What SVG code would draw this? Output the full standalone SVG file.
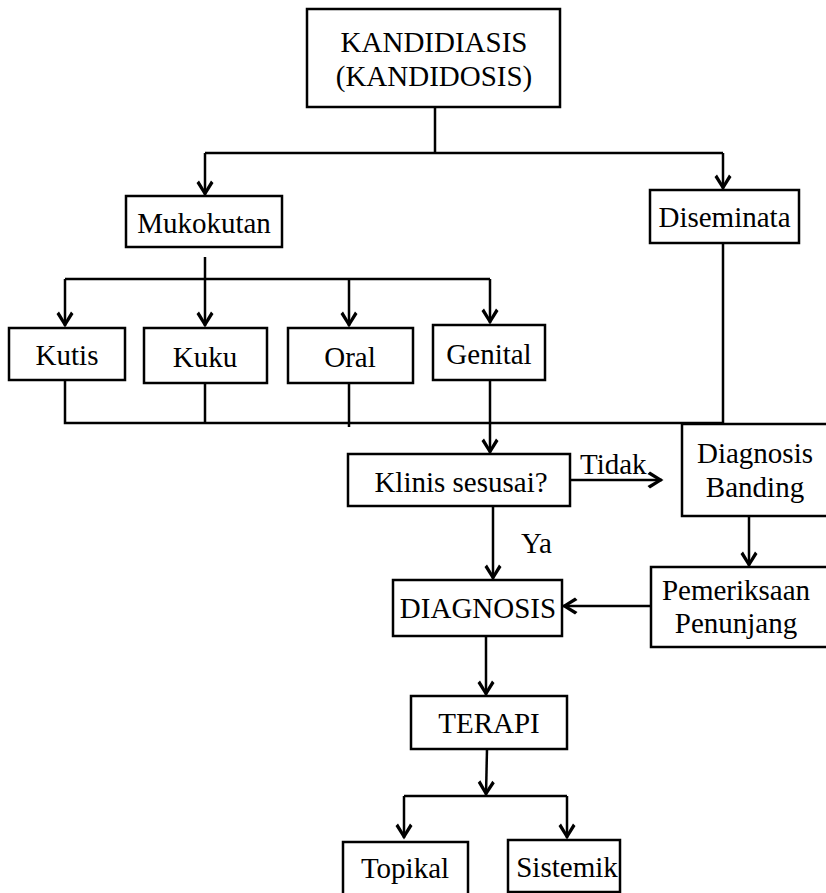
<svg xmlns="http://www.w3.org/2000/svg" width="826" height="893" viewBox="0 0 826 893">
  <style>
    .box { fill: #ffffff; stroke: #000000; stroke-width: 2.5; }
    .lbl { font-size: 29px; fill: #000000; text-anchor: middle; }
    .note { font-size: 29px; fill: #000000; }
    .wire { fill: none; stroke: #000000; stroke-width: 2.5; }
    .arrow { fill: none; stroke: #000000; stroke-width: 2.5; marker-end: url(#head); }
  </style>
  <defs>
    <!-- bold chevron arrowhead, sized in user units -->
    <marker id="head" markerUnits="userSpaceOnUse" markerWidth="20" markerHeight="22" viewBox="-17 -11 20 22" refX="0" refY="0" orient="auto">
      <path d="M1.5,0 L-12,-8.5 L-14.5,-6 L-4.5,0 L-14.5,6 L-12,8.5 Z" fill="#000000"/>
    </marker>
  </defs>
  <rect width="826" height="893" fill="#ffffff"/>

  <g font-family="Liberation Serif, Times New Roman, DejaVu Serif, serif">
  <!-- connectors -->
  <g id="connectors">
    <path class="wire" d="M435,107 V153 M205,153 H723"/>
    <path class="arrow" d="M205,153 V195"/>
    <path class="arrow" d="M723,153 V189"/>
    <path class="wire" d="M65,279 H490"/>
    <path class="arrow" d="M205,257 V326"/>
    <path class="arrow" d="M65,279 V326"/>
    <path class="arrow" d="M349,279 V326"/>
    <path class="arrow" d="M490,279 V323"/>
    <path class="wire" d="M65,380 V423 H723 M205,383 V423 M349,376 V427 M723,243 V424"/>
    <path class="arrow" d="M490,380 V453"/>
    <path class="arrow" d="M570,480 H662"/>
    <path class="arrow" d="M493,506 V579"/>
    <path class="arrow" d="M749,516 V566"/>
    <path class="arrow" d="M651,606 H563"/>
    <path class="arrow" d="M486,636 V695"/>
    <path class="arrow" d="M487,749 L486,795"/>
    <path class="wire" d="M404,796 H567"/>
    <path class="arrow" d="M404,796 V838"/>
    <path class="arrow" d="M567,796 V838"/>
    <text class="note" x="580" y="474">Tidak</text>
    <text class="note" x="521" y="553">Ya</text>
  </g>

  <g id="kandidiasis">
    <rect class="box" x="307" y="9" width="253" height="98"/>
    <text class="lbl" x="434" y="52">KANDIDIASIS</text>
    <text class="lbl" x="434" y="86">(KANDIDOSIS)</text>
  </g>
  <g id="mukokutan">
    <rect class="box" x="126" y="196" width="156" height="51"/>
    <text class="lbl" x="204" y="233">Mukokutan</text>
  </g>
  <g id="diseminata">
    <rect class="box" x="650" y="190" width="149" height="53"/>
    <text class="lbl" x="724.5" y="227">Diseminata</text>
  </g>
  <g id="kutis">
    <rect class="box" x="9" y="328" width="116" height="52"/>
    <text class="lbl" x="67" y="365">Kutis</text>
  </g>
  <g id="kuku">
    <rect class="box" x="144" y="328" width="123" height="55"/>
    <text class="lbl" x="205" y="367">Kuku</text>
  </g>
  <g id="oral">
    <rect class="box" x="288" y="328" width="125" height="55"/>
    <text class="lbl" x="350" y="367">Oral</text>
  </g>
  <g id="genital">
    <rect class="box" x="433" y="325" width="112" height="55"/>
    <text class="lbl" x="489" y="364">Genital</text>
  </g>
  <g id="klinis">
    <rect class="box" x="348" y="454" width="222" height="52"/>
    <text class="lbl" x="461" y="492">Klinis sesusai?</text>
  </g>
  <g id="diagnosis-banding">
    <rect class="box" x="682" y="424" width="150" height="92"/>
    <text class="lbl" x="755" y="463">Diagnosis</text>
    <text class="lbl" x="755" y="497">Banding</text>
  </g>
  <g id="diagnosis">
    <rect class="box" x="393" y="580" width="169" height="56"/>
    <text class="lbl" x="478" y="618">DIAGNOSIS</text>
  </g>
  <g id="pemeriksaan">
    <rect class="box" x="651" y="567" width="181" height="80"/>
    <text class="lbl" x="736" y="600">Pemeriksaan</text>
    <text class="lbl" x="736" y="633">Penunjang</text>
  </g>
  <g id="terapi">
    <rect class="box" x="411" y="696" width="156" height="53"/>
    <text class="lbl" x="489" y="733">TERAPI</text>
  </g>
  <g id="topikal">
    <rect class="box" x="343" y="842" width="125" height="60"/>
    <text class="lbl" x="405" y="878">Topikal</text>
  </g>
  <g id="sistemik">
    <rect class="box" x="508" y="840" width="112" height="52"/>
    <text class="lbl" x="567" y="877">Sistemik</text>
  </g>
  </g>
</svg>
